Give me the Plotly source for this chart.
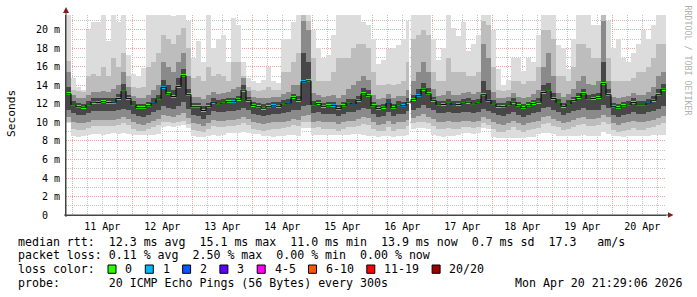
import datetime as dt
import plotly.graph_objects as go

# ---------------- data (2-hour columns starting Apr 10 21:30) ----------------
first_column = dt.datetime(2026, 4, 10, 21, 30)
range_start = "2026-04-10 21:29:06"
range_end = "2026-04-20 21:29:06"

median_ms = [
    13.1, 11.9, 11.7, 11.65, 11.9, 12.2, 12.15, 12.25, 12.15, 12.2,
    12.6, 13.4, 12.6, 11.9, 11.6, 11.6, 11.8, 12.1, 12.55, 13.8,
    13.1, 12.8, 13.9, 15.05, 13.0, 11.7, 11.7, 11.3, 11.7, 12.2,
    12.0, 12.1, 12.25, 12.25, 12.5, 13.5, 12.4, 11.85, 11.7, 11.55,
    11.7, 11.8, 11.75, 12.0, 12.1, 12.7, 12.4, 14.4, 14.5, 11.9,
    12.05, 11.75, 11.8, 11.85, 11.5, 11.8, 12.1, 12.0, 12.4, 13.1,
    12.9, 11.8, 11.5, 11.65, 12.1, 11.6, 11.9, 11.8, 12.2, 12.5,
    12.9, 13.6, 13.1, 12.4, 11.9, 11.95, 12.1, 11.9, 11.95, 12.1,
    12.2, 12.0, 12.1, 13.0, 12.4, 12.0, 11.75, 11.7, 11.9, 12.2,
    11.8, 11.6, 11.8, 12.05, 12.2, 13.25, 13.4, 12.6, 12.1, 11.75,
    12.0, 12.35, 12.7, 13.1, 12.55, 12.6, 12.7, 14.2, 13.0, 11.7,
    11.6, 11.8, 11.9, 12.15, 11.9, 11.9, 12.1, 12.4, 13.0, 13.6,
]

lost_pings = [
    0, 0, 0, 0, 0, 0, 1, 0, 0, 1,
    0, 0, 0, 0, 0, 0, 0, 1, 0, 1,
    0, 0, 0, 0, 0, 0, 0, 0, 0, 1,
    0, 0, 0, 1, 0, 0, 0, 0, 0, 0,
    0, 1, 0, 0, 1, 0, 0, 1, 0, 0,
    0, 0, 0, 1, 0, 0, 0, 1, 0, 0,
    0, 0, 0, 0, 1, 0, 0, 1, 0, 0,
    1, 0, 0, 0, 0, 0, 0, 1, 0, 0,
    0, 0, 0, 0, 1, 0, 0, 0, 0, 0,
    0, 0, 0, 0, 0, 0, 0, 0, 0, 0,
    0, 0, 0, 0, 0, 0, 0, 0, 0, 1,
    0, 0, 0, 0, 0, 0, 1, 0, 0, 0,
]

# smoke: outer (min..max) to inner percentile bands
smoke_hi1 = [
    22.0, 14.8, 13.8, 13.5, 20.0, 20.9, 20.9, 22.0, 18.8, 22.0,
    20.9, 22.0, 17.3, 15.2, 15.0, 15.9, 22.0, 22.0, 22.0, 22.0,
    22.0, 21.5, 22.0, 22.0, 21.0, 17.0, 18.8, 16.5, 22.0, 18.0,
    19.0, 19.5, 16.5, 21.3, 20.5, 16.5, 14.8, 14.5, 14.3, 14.6,
    16.0, 14.5, 14.3, 19.0, 19.0, 20.9, 22.0, 22.0, 22.0, 20.0,
    18.0, 17.0, 17.3, 19.5, 22.0, 22.0, 22.0, 22.0, 22.0, 20.9,
    20.5, 19.0, 16.3, 16.8, 17.9, 18.0, 18.4, 19.0, 21.0, 22.0,
    22.0, 22.0, 22.0, 19.0, 16.8, 18.0, 22.0, 20.2, 19.3, 20.9,
    17.7, 18.5, 19.5, 22.0, 22.0, 20.0, 15.8, 14.1, 14.6, 17.0,
    17.0, 15.6, 17.0, 16.5, 19.5, 22.0, 22.0, 22.0, 18.4, 18.0,
    15.8, 19.0, 22.0, 22.0, 22.0, 20.5, 20.5, 22.0, 21.0, 18.0,
    19.0, 17.0, 16.5, 17.5, 18.5, 20.0, 19.0, 20.5, 22.0, 22.0,
]
smoke_hi2 = [
    16.6, 13.5, 13.4, 13.3, 15.0, 15.2, 15.0, 16.0, 15.0, 17.0,
    16.0, 17.5, 15.0, 13.8, 13.7, 13.8, 16.0, 16.5, 17.5, 19.5,
    19.0, 18.5, 19.5, 20.2, 18.0, 14.8, 15.0, 14.5, 16.0, 15.0,
    15.2, 15.0, 14.5, 16.5, 16.5, 15.0, 13.8, 13.5, 13.4, 13.5,
    13.8, 13.5, 13.5, 15.5, 15.5, 16.5, 17.5, 22.0, 21.0, 17.0,
    14.5, 14.5, 14.5, 15.5, 17.0, 17.0, 17.0, 18.0, 18.5, 18.5,
    18.0, 15.5, 14.0, 14.0, 14.2, 14.0, 14.2, 14.5, 16.5, 19.0,
    19.5, 20.0, 19.5, 15.5, 14.5, 14.5, 17.0, 15.5, 15.5, 15.5,
    15.0, 15.0, 15.5, 21.0, 20.5, 16.0, 13.5, 13.4, 13.5, 14.5,
    14.5, 14.2, 14.5, 14.5, 16.0, 20.0, 20.0, 19.0, 15.0, 15.0,
    14.5, 16.0, 18.5, 18.5, 18.0, 17.0, 17.0, 22.0, 17.0, 14.5,
    14.5, 14.5, 14.5, 14.8, 15.5, 15.5, 16.0, 17.0, 18.5, 18.5,
]
smoke_hi3 = [
    15.5, 13.0, 12.7, 12.7, 13.0, 13.3, 13.3, 13.4, 13.3, 13.6,
    14.0, 15.5, 13.8, 12.9, 12.6, 12.6, 13.0, 13.5, 14.0, 16.5,
    16.0, 15.5, 16.5, 17.5, 15.0, 12.8, 12.8, 12.5, 13.0, 13.3,
    13.1, 13.2, 13.3, 13.6, 13.8, 14.8, 13.4, 12.8, 12.7, 12.6,
    12.7, 12.8, 12.8, 13.1, 13.3, 14.0, 14.0, 21.0, 20.0, 13.2,
    13.0, 12.8, 12.9, 13.0, 12.7, 13.0, 13.6, 14.0, 14.5, 15.0,
    14.6, 13.0, 12.5, 12.6, 13.1, 12.7, 12.9, 12.9, 13.5, 14.5,
    15.5, 16.5, 15.5, 13.6, 12.9, 13.0, 13.4, 13.0, 13.0, 13.2,
    13.3, 13.1, 13.3, 18.5, 17.0, 13.3, 12.7, 12.6, 12.8, 13.2,
    12.8, 12.6, 12.8, 13.1, 13.5, 16.0, 17.5, 15.0, 13.2, 12.8,
    13.1, 13.6, 14.5, 15.0, 14.2, 14.0, 14.5, 21.0, 14.5, 12.8,
    12.6, 12.8, 12.9, 13.2, 13.0, 13.0, 13.3, 13.8, 15.0, 15.5,
]
smoke_hi4 = [
    13.8, 12.3, 12.1, 12.0, 12.3, 12.6, 12.6, 12.7, 12.6, 12.7,
    13.1, 14.2, 13.0, 12.3, 12.0, 12.0, 12.2, 12.6, 13.0, 14.6,
    14.0, 13.5, 14.8, 15.8, 13.6, 12.1, 12.1, 11.8, 12.1, 12.6,
    12.4, 12.5, 12.6, 12.7, 12.9, 14.0, 12.8, 12.2, 12.1, 12.0,
    12.1, 12.2, 12.2, 12.4, 12.5, 13.1, 12.9, 17.5, 16.5, 12.3,
    12.4, 12.1, 12.2, 12.2, 11.9, 12.2, 12.5, 12.5, 12.9, 13.7,
    13.5, 12.2, 11.9, 12.0, 12.5, 12.0, 12.3, 12.2, 12.7, 13.0,
    13.6, 14.3, 13.7, 12.8, 12.3, 12.3, 12.5, 12.3, 12.3, 12.5,
    12.6, 12.4, 12.5, 14.5, 13.5, 12.4, 12.1, 12.1, 12.3, 12.6,
    12.2, 12.0, 12.2, 12.4, 12.7, 14.0, 14.3, 13.2, 12.5, 12.1,
    12.4, 12.8, 13.2, 13.6, 13.0, 13.1, 13.2, 16.5, 13.6, 12.1,
    12.0, 12.2, 12.3, 12.6, 12.3, 12.3, 12.5, 12.9, 13.6, 14.2,
]
smoke_lo4 = [
    11.4, 11.0, 10.8, 10.8, 11.0, 11.2, 11.2, 11.2, 11.2, 11.2,
    11.3, 11.5, 11.3, 10.9, 10.7, 10.6, 10.8, 11.1, 11.3, 11.8,
    11.6, 11.5, 11.8, 12.2, 11.5, 10.8, 10.7, 10.4, 10.8, 11.2,
    11.1, 11.1, 11.2, 11.2, 11.3, 11.6, 11.3, 10.9, 10.8, 10.7,
    10.8, 10.9, 10.9, 11.0, 11.1, 11.4, 11.3, 11.8, 11.9, 11.0,
    11.1, 10.9, 10.9, 10.9, 10.7, 10.9, 11.1, 11.1, 11.3, 11.6,
    11.5, 10.9, 10.6, 10.7, 11.1, 10.7, 10.9, 10.9, 11.2, 11.4,
    11.6, 11.9, 11.6, 11.3, 11.0, 11.0, 11.1, 11.0, 11.0, 11.1,
    11.1, 11.0, 11.1, 11.5, 11.2, 11.0, 10.8, 10.7, 10.9, 11.1,
    10.8, 10.6, 10.8, 11.0, 11.1, 11.6, 11.7, 11.4, 11.1, 10.8,
    11.0, 11.2, 11.4, 11.6, 11.3, 11.4, 11.4, 11.9, 11.6, 10.8,
    10.6, 10.8, 10.9, 11.1, 10.9, 10.9, 11.1, 11.2, 11.5, 11.8,
]
smoke_lo3 = [
    10.6, 10.0, 9.9, 9.9, 10.1, 10.3, 10.3, 10.3, 10.3, 10.3,
    10.4, 10.6, 10.4, 10.0, 9.8, 9.7, 9.9, 10.2, 10.4, 10.8,
    10.7, 10.6, 10.8, 11.0, 10.5, 9.9, 9.8, 9.6, 9.9, 10.3,
    10.2, 10.2, 10.3, 10.3, 10.4, 10.6, 10.4, 10.0, 9.9, 9.8,
    9.9, 10.0, 10.0, 10.1, 10.2, 10.4, 10.3, 10.7, 10.8, 10.1,
    10.2, 10.0, 10.0, 10.0, 9.8, 10.0, 10.2, 10.2, 10.4, 10.6,
    10.5, 10.0, 9.7, 9.8, 10.2, 9.8, 10.0, 10.0, 10.3, 10.5,
    10.7, 10.9, 10.6, 10.4, 10.1, 10.1, 10.2, 10.1, 10.1, 10.2,
    10.2, 10.1, 10.2, 10.6, 10.4, 10.1, 9.8, 9.7, 9.9, 10.2,
    9.9, 9.7, 9.9, 10.1, 10.2, 10.6, 10.7, 10.4, 10.2, 9.9,
    10.1, 10.3, 10.5, 10.6, 10.4, 10.4, 10.5, 10.8, 10.6, 9.9,
    9.7, 9.9, 10.0, 10.2, 10.0, 10.0, 10.2, 10.3, 10.5, 10.7,
]
smoke_lo2 = [
    10.1, 9.3, 9.2, 9.2, 9.4, 9.6, 9.6, 9.6, 9.6, 9.6,
    9.7, 9.9, 9.7, 9.3, 9.1, 9.1, 9.3, 9.5, 9.7, 10.1,
    10.0, 9.9, 10.1, 10.2, 9.8, 9.2, 9.1, 9.0, 9.3, 9.6,
    9.5, 9.5, 9.6, 9.6, 9.7, 9.9, 9.7, 9.3, 9.2, 9.1,
    9.2, 9.3, 9.3, 9.4, 9.5, 9.7, 9.6, 10.0, 10.0, 9.4,
    9.5, 9.3, 9.3, 9.3, 9.1, 9.3, 9.5, 9.5, 9.6, 9.8,
    9.7, 9.3, 9.1, 9.1, 9.5, 9.1, 9.3, 9.3, 9.6, 9.9,
    10.0, 10.1, 9.9, 9.6, 9.3, 9.3, 9.4, 9.3, 9.3, 9.5,
    9.5, 9.4, 9.5, 9.9, 9.7, 9.3, 9.0, 9.0, 9.2, 9.5,
    9.2, 9.0, 9.2, 9.3, 9.4, 9.8, 9.9, 9.6, 9.5, 9.2,
    9.3, 9.5, 9.7, 9.8, 9.6, 9.6, 9.7, 10.0, 9.8, 9.2,
    9.0, 9.1, 9.2, 9.4, 9.2, 9.2, 9.4, 9.5, 9.7, 9.9,
]
smoke_lo1 = [
    9.9, 8.5, 8.4, 8.5, 8.6, 8.8, 8.8, 8.7, 8.8, 8.9,
    8.8, 8.9, 8.8, 8.7, 8.6, 8.6, 8.7, 8.7, 8.8, 9.5,
    9.6, 9.5, 9.6, 9.7, 9.4, 8.5, 8.4, 8.4, 8.5, 8.6,
    8.5, 8.6, 8.9, 8.9, 8.9, 9.0, 8.9, 8.8, 8.8, 8.5,
    8.5, 8.4, 8.5, 8.5, 8.6, 8.6, 8.5, 9.4, 9.4, 8.7,
    8.7, 8.6, 8.7, 8.7, 8.6, 8.7, 8.7, 8.8, 8.8, 8.6,
    8.5, 8.5, 8.4, 8.5, 8.5, 8.4, 8.5, 8.5, 8.6, 9.3,
    9.4, 9.4, 9.3, 8.6, 8.5, 8.4, 8.5, 8.5, 8.6, 8.9,
    8.9, 8.8, 8.9, 9.4, 9.3, 8.4, 8.3, 8.3, 8.3, 8.3,
    8.3, 8.3, 8.4, 8.4, 8.8, 8.9, 8.9, 8.8, 8.5, 8.5,
    8.5, 8.5, 8.5, 8.6, 8.5, 8.5, 8.5, 9.0, 8.8, 8.5,
    8.5, 8.4, 8.5, 8.5, 8.5, 8.5, 8.5, 8.6, 8.6, 8.6,
]
missing_column = 68  # partially missing data (gap)

y_tick_values = [0, 2, 4, 6, 8, 10, 12, 14, 16, 18, 20]
y_tick_labels = ["0\u00a0\u00a0", "2 m", "4 m", "6 m", "8 m", "10 m",
                 "12 m", "14 m", "16 m", "18 m", "20 m"]

loss_labels = ["0", "1", "2", "3", "4-5", "6-10", "11-19", "20/20"]
loss_colors = ["#26ff00", "#00b8ff", "#0059ff", "#5e00ff", "#ff00ff",
               "#ff5500", "#ff0000", "#a10000"]

line_rtt = "median rtt:  12.3 ms avg  15.1 ms max  11.0 ms min  13.9 ms now  0.7 ms sd  17.3   am/s"
line_loss = "packet loss: 0.11 % avg  2.50 % max  0.00 % min  0.00 % now"
line_color = "loss color:"
line_probe = "probe:       20 ICMP Echo Pings (56 Bytes) every 300s"
stamp = "Mon Apr 20 21:29:06 2026"
y_title = "Seconds"
watermark = "RRDTOOL / TOBI OETIKER"

# ---------------- figure ----------------
N = len(median_ms)
times = [first_column + dt.timedelta(hours=2 * i) for i in range(N)]
HOUR = 3600 * 1000
widths = [2 * HOUR + 4 * 60 * 1000] * N
widths[missing_column] = 1.3 * HOUR

fig = go.Figure()
bands = [
    (smoke_lo1, smoke_hi1, "#dcdcdc"),
    (smoke_lo2, smoke_hi2, "#bdbdbd"),
    (smoke_lo3, smoke_hi3, "#8a8a8a"),
    (smoke_lo4, smoke_hi4, "#474747"),
]
for lo, hi, col in bands:
    fig.add_trace(go.Bar(
        x=times, y=[h - l for l, h in zip(lo, hi)], base=lo,
        width=widths, offset=0, marker=dict(color=col, line=dict(width=0)),
        hoverinfo="skip"))

# median: step line + loss-coloured segments
fig.add_trace(go.Scatter(
    x=times + [times[-1] + dt.timedelta(hours=2)], y=median_ms + [median_ms[-1]],
    mode="lines", line=dict(color="#000000", width=1, shape="hv"),
    hoverinfo="skip"))
seg_h = 0.3
fig.add_trace(go.Bar(
    x=times, y=[seg_h] * N, base=[m - seg_h / 2 for m in median_ms],
    width=widths, offset=0,
    marker=dict(color=[loss_colors[min(l, 1)] for l in lost_pings], line=dict(width=0)),
    hoverinfo="skip"))

L, R, T, B = 66, 31, 15, 82
W, H = 697, 297
pw, ph = W - L - R, H - T - B


def px(x):
    return (x - L) / pw


def py(y):
    return (H - B - y) / ph


grid_major = "#eaa6a6"
grid_minor = "#c4c4c4"
no_tick = "rgba(0,0,0,0)"
axis_col = "#444444"
fig.update_layout(
    width=W, height=H, margin=dict(l=L, r=R, t=T, b=B, pad=0),
    plot_bgcolor="white", paper_bgcolor="white", showlegend=False,
    barmode="overlay", bargap=0,
    font=dict(family="DejaVu Sans Mono", size=10, color="#000000"),
    xaxis=dict(
        type="date", range=[range_start, range_end],
        tick0="2026-04-11", dtick=24 * HOUR, tickformat="%d %b",
        ticklabelmode="period", showgrid=True, gridcolor=grid_major,
        griddash="1px,1px", gridwidth=1, ticks="outside", ticklen=2,
        tickcolor=no_tick, showline=True, linecolor=axis_col,
        linewidth=1, zeroline=False, tickfont=dict(size=10),
        minor=dict(dtick=6 * HOUR, showgrid=True, gridcolor=grid_minor,
                   griddash="1px,1px", ticks=""),
        fixedrange=True),
    yaxis=dict(
        range=[0, 21.62], tickvals=y_tick_values, ticktext=y_tick_labels,
        showgrid=True, gridcolor=grid_major, griddash="1px,1px", gridwidth=1,
        ticks="outside", ticklen=3, tickcolor=no_tick, showline=True,
        linecolor=axis_col, linewidth=1, zeroline=False,
        tickfont=dict(size=10),
        minor=dict(dtick=1, showgrid=True, gridcolor=grid_minor,
                   griddash="1px,1px", ticks=""),
        fixedrange=True),
)

arrow_col = "#8b1a1a"
shapes = [
    dict(type="line", xref="paper", yref="paper", x0=0, x1=0, y0=py(217), y1=py(9),
         line=dict(color=axis_col, width=1)),
    dict(type="path", xref="paper", yref="paper",
         path=f"M {px(L-3)} {py(13)} L {px(L+3)} {py(13)} L {px(L)} {py(7)} Z",
         fillcolor=arrow_col, line=dict(color=arrow_col, width=0)),
    dict(type="line", xref="paper", yref="paper", x0=px(L - 2), x1=px(669), y0=0, y1=0,
         line=dict(color=axis_col, width=1)),
    dict(type="path", xref="paper", yref="paper",
         path=f"M {px(668)} {py(212.3)} L {px(668)} {py(217.7)} L {px(673.5)} {py(215)} Z",
         fillcolor=arrow_col, line=dict(color=arrow_col, width=0)),
]


def nb(s):
    return s.replace(" ", "\u00a0")


fs = 11.6
ann = [
    dict(text=y_title, x=px(11), y=py(114), textangle=-90,
         font=dict(size=11.2)),
    dict(text=nb(watermark), x=px(687.5), y=py(60), textangle=90,
         font=dict(size=8.3, color="#b0b0b0")),
    dict(text=nb(line_rtt), x=px(16), y=py(241.7), xanchor="left",
         font=dict(size=fs)),
    dict(text=nb(line_loss), x=px(16), y=py(255.2), xanchor="left",
         font=dict(size=fs)),
    dict(text=nb(line_color), x=px(16), y=py(269.0), xanchor="left",
         font=dict(size=fs)),
    dict(text=nb(line_probe), x=px(16), y=py(282.8), xanchor="left",
         font=dict(size=fs)),
    dict(text=nb(stamp), x=px(512.7), y=py(282.8), xanchor="left",
         font=dict(size=fs)),
]
bx = 108.0
for lab, col in zip(loss_labels, loss_colors):
    shapes.append(dict(type="rect", xref="paper", yref="paper",
                       x0=px(bx), x1=px(bx + 8), y0=py(273.3), y1=py(265.0),
                       fillcolor=col, line=dict(color="#000000", width=1)))
    ann.append(dict(text=nb(lab), x=px(bx + 15.3), y=py(269.0),
                    xanchor="left", font=dict(size=fs)))
    bx += 30.3 + 7.0 * len(lab)

for a in ann:
    a.update(xref="paper", yref="paper", showarrow=False)
    a.setdefault("xanchor", "center")
    a.setdefault("yanchor", "middle")
    a["font"].setdefault("family", "DejaVu Sans Mono")
    a["font"].setdefault("color", "#000000")

fig.update_layout(shapes=shapes, annotations=ann)
fig.write_html("out.html")
